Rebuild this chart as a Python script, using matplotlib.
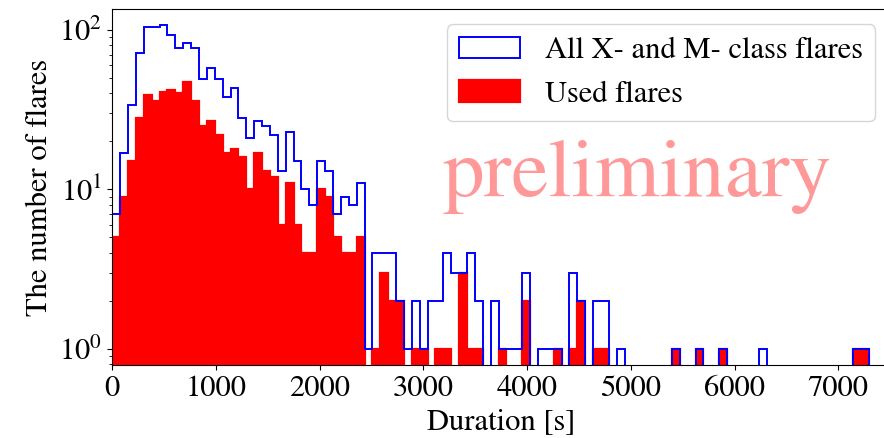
import numpy as np
import matplotlib
matplotlib.use("Agg")
import matplotlib.pyplot as plt

plt.rcParams['font.family'] = ['STIXGeneral', 'Liberation Serif', 'DejaVu Serif']
plt.rcParams['mathtext.fontset'] = 'stix'
plt.rcParams['font.size'] = 22

# bin edges of the duration histogram [s]
bin_width = 76
n_bins = 96
edges = np.arange(n_bins + 1) * bin_width

# counts per bin, all X- and M- class flares
all_counts = [7, 17, 34, 72, 105, 105, 107, 93, 77, 83, 77, 49, 58, 49, 38, 43,
              28, 21, 27, 25, 22, 13, 23, 15, 10, 8, 15, 13, 7, 9, 8, 11,
              1, 4, 4, 4, 2, 1, 2, 1, 2, 2, 4, 3, 3, 4, 2, 0,
              2, 1, 1, 1, 3, 0, 1, 1, 1, 0, 3, 2, 0, 2, 2, 0,
              1, 0, 0, 0, 0, 0, 0, 1, 0, 0, 1, 0, 0, 1, 0, 0,
              0, 0, 1, 0, 0, 0, 0, 0, 0, 0, 0, 0, 0, 0, 1, 1]

# counts per bin, used flares
used_counts = [5, 9, 15, 28, 39, 36, 41, 42, 40, 47, 36, 25, 27, 22, 17, 18,
               16, 10, 17, 13, 12, 6, 11, 6, 4, 4, 10, 9, 5, 4, 4, 5,
               0, 1, 3, 2, 2, 0, 1, 1, 0, 1, 1, 0, 3, 1, 1, 0,
               0, 1, 0, 0, 2, 0, 0, 0, 1, 0, 1, 2, 0, 1, 1, 0,
               0, 0, 0, 0, 0, 0, 0, 1, 0, 0, 1, 0, 0, 1, 0, 0,
               0, 0, 0, 0, 0, 0, 0, 0, 0, 0, 0, 0, 0, 0, 1, 1]

fig = plt.figure(figsize=(8.84, 4.38), dpi=100)
ax = fig.add_axes([0.127, 0.166, 0.88, 0.813])

centers = edges[:-1] + bin_width / 2
ax.hist(centers, bins=edges, weights=all_counts, histtype='step',
        color='blue', lw=1.4, label='All X- and M- class flares')
ax.hist(centers, bins=edges, weights=used_counts, histtype='stepfilled',
        facecolor='red', edgecolor='red', lw=1.6, label='Used flares')

ax.set_yscale('log')
ax.set_xlim(0, 7500)
ax.set_ylim(0.79, 135)
ax.set_xticks([0, 1000, 2000, 3000, 4000, 5000, 6000, 7000])

ax.set_xlabel('Duration [s]')
ax.set_ylabel('The number of flares')
ax.legend(loc='upper right')

ax.text(0.675, 0.53, 'preliminary', transform=ax.transAxes, fontsize=60,
        color='red', alpha=0.4, ha='center', va='center')

fig.savefig('out.png', dpi=100)
